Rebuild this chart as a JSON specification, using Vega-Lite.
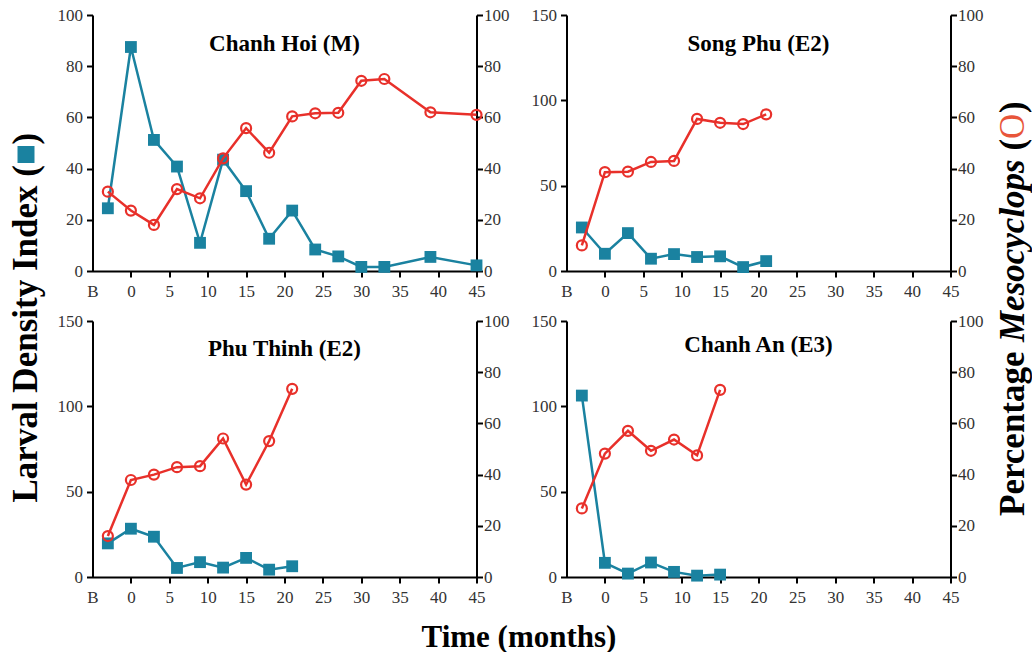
{
  "$schema": "https://vega.github.io/schema/vega-lite/v6.json",
  "padding": {"top": 6, "left": 0, "right": 0, "bottom": 0},
  "background": "white",
  "config": {
    "view": {"stroke": null},
    "font": "Liberation Serif",
    "axis": {"domainColor": "black", "domainWidth": 2, "tickColor": "black", "tickWidth": 2, "tickSize": 6, "labelFont": "Liberation Serif", "labelFontSize": 17, "labelColor": "#333", "grid": false, "labelPadding": 2},
    "axisLeft": {"labelPadding": 4},
    "axisRight": {"labelPadding": 1},
    "axisX": {"labelPadding": 6, "values": [-4.5, 0, 5, 10, 15, 20, 25, 30, 35, 40, 45], "labelExpr": "datum.value < 0 ? 'B' : datum.label", "labelFlush": false, "labelOverlap": false, "tickOpacity": {"condition": {"test": "datum.value < 0", "value": 0}, "value": 1}},
    "title": {"font": "Liberation Serif", "fontSize": 23, "fontWeight": "bold", "color": "black"}
  },
  "datasets": {
    "larva": [
      {"site": "Chanh Hoi (M)", "t": -3, "v": 24.5}, {"site": "Chanh Hoi (M)", "t": 0, "v": 87.5}, {"site": "Chanh Hoi (M)", "t": 3, "v": 51.2}, {"site": "Chanh Hoi (M)", "t": 6, "v": 40.8}, {"site": "Chanh Hoi (M)", "t": 9, "v": 11}, {"site": "Chanh Hoi (M)", "t": 12, "v": 43.5}, {"site": "Chanh Hoi (M)", "t": 15, "v": 31.2}, {"site": "Chanh Hoi (M)", "t": 18, "v": 12.6}, {"site": "Chanh Hoi (M)", "t": 21, "v": 23.6}, {"site": "Chanh Hoi (M)", "t": 24, "v": 8.4}, {"site": "Chanh Hoi (M)", "t": 27, "v": 5.7}, {"site": "Chanh Hoi (M)", "t": 30, "v": 1.6}, {"site": "Chanh Hoi (M)", "t": 33, "v": 1.6}, {"site": "Chanh Hoi (M)", "t": 39, "v": 5.5}, {"site": "Chanh Hoi (M)", "t": 45, "v": 2.2},
      {"site": "Song Phu (E2)", "t": -3, "v": 25.5}, {"site": "Song Phu (E2)", "t": 0, "v": 10.1}, {"site": "Song Phu (E2)", "t": 3, "v": 22.2}, {"site": "Song Phu (E2)", "t": 6, "v": 7.2}, {"site": "Song Phu (E2)", "t": 9, "v": 9.9}, {"site": "Song Phu (E2)", "t": 12, "v": 8.2}, {"site": "Song Phu (E2)", "t": 15, "v": 8.6}, {"site": "Song Phu (E2)", "t": 18, "v": 2.3}, {"site": "Song Phu (E2)", "t": 21, "v": 5.8},
      {"site": "Phu Thinh (E2)", "t": -3, "v": 19.7}, {"site": "Phu Thinh (E2)", "t": 0, "v": 28.3}, {"site": "Phu Thinh (E2)", "t": 3, "v": 23.6}, {"site": "Phu Thinh (E2)", "t": 6, "v": 5.3}, {"site": "Phu Thinh (E2)", "t": 9, "v": 8.7}, {"site": "Phu Thinh (E2)", "t": 12, "v": 5.5}, {"site": "Phu Thinh (E2)", "t": 15, "v": 11.2}, {"site": "Phu Thinh (E2)", "t": 18, "v": 4.3}, {"site": "Phu Thinh (E2)", "t": 21, "v": 6.3},
      {"site": "Chanh An (E3)", "t": -3, "v": 106.3}, {"site": "Chanh An (E3)", "t": 0, "v": 8.3}, {"site": "Chanh An (E3)", "t": 3, "v": 2}, {"site": "Chanh An (E3)", "t": 6, "v": 8.5}, {"site": "Chanh An (E3)", "t": 9, "v": 3}, {"site": "Chanh An (E3)", "t": 12, "v": 0.8}, {"site": "Chanh An (E3)", "t": 15, "v": 1.4}
    ],
    "meso": [
      {"site": "Chanh Hoi (M)", "t": -3, "v": 31}, {"site": "Chanh Hoi (M)", "t": 0, "v": 23.6}, {"site": "Chanh Hoi (M)", "t": 3, "v": 18}, {"site": "Chanh Hoi (M)", "t": 6, "v": 32}, {"site": "Chanh Hoi (M)", "t": 9, "v": 28.4}, {"site": "Chanh Hoi (M)", "t": 12, "v": 44}, {"site": "Chanh Hoi (M)", "t": 15, "v": 55.8}, {"site": "Chanh Hoi (M)", "t": 18, "v": 46.2}, {"site": "Chanh Hoi (M)", "t": 21, "v": 60.4}, {"site": "Chanh Hoi (M)", "t": 24, "v": 61.6}, {"site": "Chanh Hoi (M)", "t": 27, "v": 61.8}, {"site": "Chanh Hoi (M)", "t": 30, "v": 74.3}, {"site": "Chanh Hoi (M)", "t": 33, "v": 75}, {"site": "Chanh Hoi (M)", "t": 39, "v": 62}, {"site": "Chanh Hoi (M)", "t": 45, "v": 61},
      {"site": "Song Phu (E2)", "t": -3, "v": 10}, {"site": "Song Phu (E2)", "t": 0, "v": 38.6}, {"site": "Song Phu (E2)", "t": 3, "v": 38.8}, {"site": "Song Phu (E2)", "t": 6, "v": 42.6}, {"site": "Song Phu (E2)", "t": 9, "v": 43}, {"site": "Song Phu (E2)", "t": 12, "v": 59.4}, {"site": "Song Phu (E2)", "t": 15, "v": 57.9}, {"site": "Song Phu (E2)", "t": 18, "v": 57.4}, {"site": "Song Phu (E2)", "t": 21, "v": 61.2},
      {"site": "Phu Thinh (E2)", "t": -3, "v": 16}, {"site": "Phu Thinh (E2)", "t": 0, "v": 37.9}, {"site": "Phu Thinh (E2)", "t": 3, "v": 40}, {"site": "Phu Thinh (E2)", "t": 6, "v": 42.9}, {"site": "Phu Thinh (E2)", "t": 9, "v": 43.3}, {"site": "Phu Thinh (E2)", "t": 12, "v": 54.1}, {"site": "Phu Thinh (E2)", "t": 15, "v": 36.1}, {"site": "Phu Thinh (E2)", "t": 18, "v": 53.1}, {"site": "Phu Thinh (E2)", "t": 21, "v": 73.5},
      {"site": "Chanh An (E3)", "t": -3, "v": 26.8}, {"site": "Chanh An (E3)", "t": 0, "v": 48.2}, {"site": "Chanh An (E3)", "t": 3, "v": 57.1}, {"site": "Chanh An (E3)", "t": 6, "v": 49.3}, {"site": "Chanh An (E3)", "t": 9, "v": 53.7}, {"site": "Chanh An (E3)", "t": 12, "v": 47.5}, {"site": "Chanh An (E3)", "t": 15, "v": 73.1}
    ],
    "one": [{}]
  },
  "title": {"text": "Time (months)", "orient": "bottom", "anchor": "middle", "fontSize": 31, "offset": 18, "frame": "bounds"},
  "spacing": 4.5,
  "hconcat": [
    {
      "width": 52, "height": 584,
      "data": {"name": "one"},
      "layer": [
        {"mark": {"type": "text", "text": "Larval Density Index (", "angle": 270, "align": "left", "baseline": "middle", "font": "Liberation Serif", "fontSize": 35, "fontWeight": "bold", "color": "black", "dx": -195.5}, "encoding": {}},
        {"mark": {"type": "square", "color": "#1a82a0", "filled": true, "opacity": 1, "size": 289, "yOffset": -152.5}, "encoding": {}},
        {"mark": {"type": "text", "text": ")", "angle": 270, "align": "left", "baseline": "middle", "font": "Liberation Serif", "fontSize": 35, "fontWeight": "bold", "color": "black", "dx": 162.5}, "encoding": {}}
      ]
    },
    {
      "spacing": 13,
      "vconcat": [
        {
          "spacing": 21,
          "hconcat": [
            {
              "width": 384, "height": 256,
              "layer": [
                {"data": {"name": "larva"}, "transform": [{"filter": "datum.site === 'Chanh Hoi (M)'"}],
                 "encoding": {
                   "x": {"field": "t", "type": "quantitative", "scale": {"domain": [-5, 45], "nice": false, "zero": false}, "title": null},
                   "y": {"field": "v", "type": "quantitative", "scale": {"domain": [0, 100], "nice": false}, "axis": {"orient": "left", "values": [0, 20, 40, 60, 80, 100], "title": null}}},
                 "layer": [
                   {"mark": {"type": "line", "color": "#1a82a0", "strokeWidth": 2.5}},
                   {"mark": {"type": "square", "color": "#1a82a0", "filled": true, "opacity": 1, "size": 140}}
                 ]},
                {"data": {"name": "meso"}, "transform": [{"filter": "datum.site === 'Chanh Hoi (M)'"}],
                 "encoding": {
                   "x": {"field": "t", "type": "quantitative", "scale": {"domain": [-5, 45], "nice": false, "zero": false}, "title": null},
                   "y": {"field": "v", "type": "quantitative", "scale": {"domain": [0, 100], "nice": false}, "axis": {"orient": "right", "values": [0, 20, 40, 60, 80, 100], "title": null}}},
                 "layer": [
                   {"mark": {"type": "line", "color": "#e8302a", "strokeWidth": 2.5}},
                   {"mark": {"type": "point", "shape": "circle", "color": "#e8302a", "filled": false, "fill": "white", "fillOpacity": 0, "strokeWidth": 2.2, "opacity": 1, "size": 100}}
                 ]},
                {"data": {"name": "one"}, "mark": {"type": "text", "text": "Chanh Hoi (M)", "font": "Liberation Serif", "fontSize": 23, "fontWeight": "bold", "color": "black", "baseline": "alphabetic", "yOffset": -92}, "encoding": {}}
              ],
              "resolve": {"scale": {"y": "independent"}}
            },
            {
              "width": 384, "height": 256,
              "layer": [
                {"data": {"name": "larva"}, "transform": [{"filter": "datum.site === 'Song Phu (E2)'"}],
                 "encoding": {
                   "x": {"field": "t", "type": "quantitative", "scale": {"domain": [-5, 45], "nice": false, "zero": false}, "title": null},
                   "y": {"field": "v", "type": "quantitative", "scale": {"domain": [0, 150], "nice": false}, "axis": {"orient": "left", "values": [0, 50, 100, 150], "title": null}}},
                 "layer": [
                   {"mark": {"type": "line", "color": "#1a82a0", "strokeWidth": 2.5}},
                   {"mark": {"type": "square", "color": "#1a82a0", "filled": true, "opacity": 1, "size": 140}}
                 ]},
                {"data": {"name": "meso"}, "transform": [{"filter": "datum.site === 'Song Phu (E2)'"}],
                 "encoding": {
                   "x": {"field": "t", "type": "quantitative", "scale": {"domain": [-5, 45], "nice": false, "zero": false}, "title": null},
                   "y": {"field": "v", "type": "quantitative", "scale": {"domain": [0, 100], "nice": false}, "axis": {"orient": "right", "values": [0, 20, 40, 60, 80, 100], "title": null}}},
                 "layer": [
                   {"mark": {"type": "line", "color": "#e8302a", "strokeWidth": 2.5}},
                   {"mark": {"type": "point", "shape": "circle", "color": "#e8302a", "filled": false, "fill": "white", "fillOpacity": 0, "strokeWidth": 2.2, "opacity": 1, "size": 100}}
                 ]},
                {"data": {"name": "one"}, "mark": {"type": "text", "text": "Song Phu (E2)", "font": "Liberation Serif", "fontSize": 23, "fontWeight": "bold", "color": "black", "baseline": "alphabetic", "yOffset": -92}, "encoding": {}}
              ],
              "resolve": {"scale": {"y": "independent"}}
            }
          ]
        },
        {
          "spacing": 21,
          "hconcat": [
            {
              "width": 384, "height": 256,
              "layer": [
                {"data": {"name": "larva"}, "transform": [{"filter": "datum.site === 'Phu Thinh (E2)'"}],
                 "encoding": {
                   "x": {"field": "t", "type": "quantitative", "scale": {"domain": [-5, 45], "nice": false, "zero": false}, "title": null},
                   "y": {"field": "v", "type": "quantitative", "scale": {"domain": [0, 150], "nice": false}, "axis": {"orient": "left", "values": [0, 50, 100, 150], "title": null}}},
                 "layer": [
                   {"mark": {"type": "line", "color": "#1a82a0", "strokeWidth": 2.5}},
                   {"mark": {"type": "square", "color": "#1a82a0", "filled": true, "opacity": 1, "size": 140}}
                 ]},
                {"data": {"name": "meso"}, "transform": [{"filter": "datum.site === 'Phu Thinh (E2)'"}],
                 "encoding": {
                   "x": {"field": "t", "type": "quantitative", "scale": {"domain": [-5, 45], "nice": false, "zero": false}, "title": null},
                   "y": {"field": "v", "type": "quantitative", "scale": {"domain": [0, 100], "nice": false}, "axis": {"orient": "right", "values": [0, 20, 40, 60, 80, 100], "title": null}}},
                 "layer": [
                   {"mark": {"type": "line", "color": "#e8302a", "strokeWidth": 2.5}},
                   {"mark": {"type": "point", "shape": "circle", "color": "#e8302a", "filled": false, "fill": "white", "fillOpacity": 0, "strokeWidth": 2.2, "opacity": 1, "size": 100}}
                 ]},
                {"data": {"name": "one"}, "mark": {"type": "text", "text": "Phu Thinh (E2)", "font": "Liberation Serif", "fontSize": 23, "fontWeight": "bold", "color": "black", "baseline": "alphabetic", "yOffset": -93}, "encoding": {}}
              ],
              "resolve": {"scale": {"y": "independent"}}
            },
            {
              "width": 384, "height": 256,
              "layer": [
                {"data": {"name": "larva"}, "transform": [{"filter": "datum.site === 'Chanh An (E3)'"}],
                 "encoding": {
                   "x": {"field": "t", "type": "quantitative", "scale": {"domain": [-5, 45], "nice": false, "zero": false}, "title": null},
                   "y": {"field": "v", "type": "quantitative", "scale": {"domain": [0, 150], "nice": false}, "axis": {"orient": "left", "values": [0, 50, 100, 150], "title": null}}},
                 "layer": [
                   {"mark": {"type": "line", "color": "#1a82a0", "strokeWidth": 2.5}},
                   {"mark": {"type": "square", "color": "#1a82a0", "filled": true, "opacity": 1, "size": 140}}
                 ]},
                {"data": {"name": "meso"}, "transform": [{"filter": "datum.site === 'Chanh An (E3)'"}],
                 "encoding": {
                   "x": {"field": "t", "type": "quantitative", "scale": {"domain": [-5, 45], "nice": false, "zero": false}, "title": null},
                   "y": {"field": "v", "type": "quantitative", "scale": {"domain": [0, 100], "nice": false}, "axis": {"orient": "right", "values": [0, 20, 40, 60, 80, 100], "title": null}}},
                 "layer": [
                   {"mark": {"type": "line", "color": "#e8302a", "strokeWidth": 2.5}},
                   {"mark": {"type": "point", "shape": "circle", "color": "#e8302a", "filled": false, "fill": "white", "fillOpacity": 0, "strokeWidth": 2.2, "opacity": 1, "size": 100}}
                 ]},
                {"data": {"name": "one"}, "mark": {"type": "text", "text": "Chanh An (E3)", "font": "Liberation Serif", "fontSize": 23, "fontWeight": "bold", "color": "black", "baseline": "alphabetic", "yOffset": -97}, "encoding": {}}
              ],
              "resolve": {"scale": {"y": "independent"}}
            }
          ]
        }
      ]
    },
    {
      "width": 50, "height": 584,
      "data": {"name": "one"},
      "layer": [
        {"mark": {"type": "text", "text": "Percentage", "angle": 270, "align": "left", "baseline": "middle", "font": "Liberation Serif", "fontSize": 35, "fontWeight": "bold", "color": "black", "dx": -209}, "encoding": {}},
        {"mark": {"type": "text", "text": "Mesocyclops", "angle": 270, "align": "left", "baseline": "middle", "font": "Liberation Serif", "fontSize": 35, "fontWeight": "bold", "fontStyle": "italic", "color": "black", "dx": -35}, "encoding": {}},
        {"mark": {"type": "text", "text": "(", "angle": 270, "align": "left", "baseline": "middle", "font": "Liberation Serif", "fontSize": 35, "fontWeight": "bold", "color": "black", "dx": 156.4}, "encoding": {}},
        {"mark": {"type": "text", "text": "O", "angle": 270, "align": "left", "baseline": "middle", "font": "Liberation Serif", "fontSize": 35, "fontWeight": "normal", "color": "#e8553a", "dx": 168}, "encoding": {}},
        {"mark": {"type": "text", "text": ")", "angle": 270, "align": "left", "baseline": "middle", "font": "Liberation Serif", "fontSize": 35, "fontWeight": "bold", "color": "black", "dx": 194}, "encoding": {}}
      ]
    }
  ]
}
